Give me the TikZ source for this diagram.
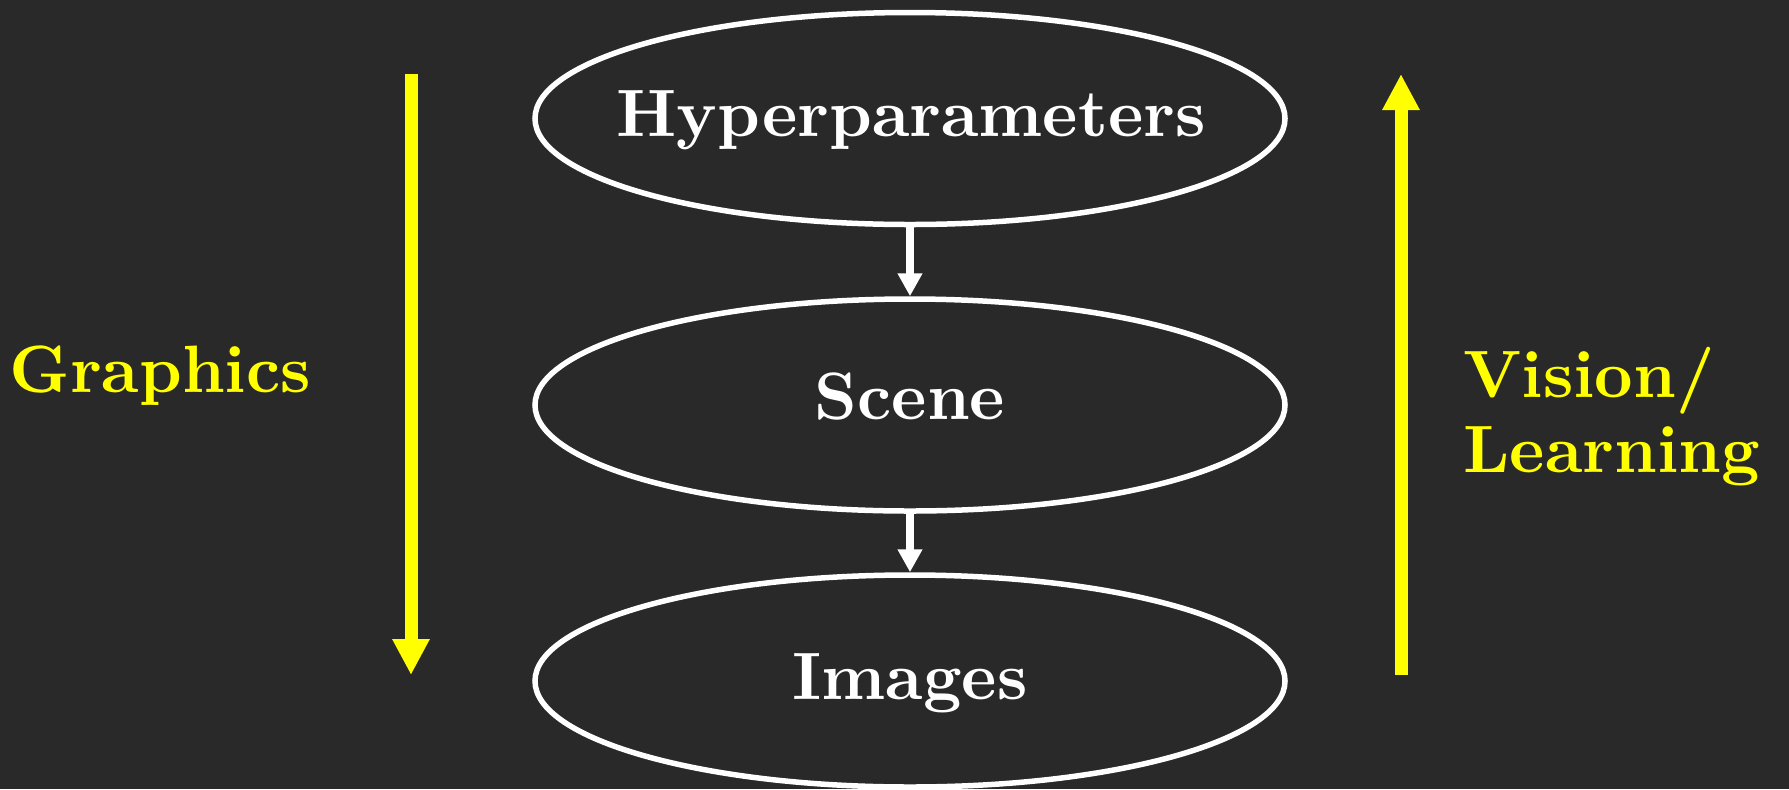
\documentclass[tikz,border=0pt]{standalone}
\usepackage{fontspec}
\usetikzlibrary{shapes.geometric,arrows.meta}
\newfontfamily\bxten{lmroman10-bold.otf}
\definecolor{bgdark}{RGB}{41,41,41}
\definecolor{lblyellow}{RGB}{255,255,0}
\begin{document}
\begin{tikzpicture}[x=0.4pt,y=-0.4pt,
  stage/.style={ellipse,draw=white,line width=2.2pt,minimum width=300pt,
    minimum height=84.8pt,inner sep=0pt},
  stagetext/.style={text=white,inner sep=0pt,anchor=base,
    font=\fontsize{26.8}{30}\selectfont\bxten},
  flow/.style={draw=white,line width=3.2pt,
    -{Triangle[width=9.4pt,length=9.2pt]}},
  dirarrow/.style={draw=lblyellow,line width=5.2pt,
    -{Triangle[width=14pt,length=14.4pt]}},
  side/.style={text=lblyellow,inner sep=0pt,align=left,anchor=base west,
    font=\fontsize{26.8}{30}\selectfont\bxten}]
  % background
  \fill[bgdark] (0,0) rectangle (1789,789);
  \useasboundingbox (0,0) rectangle (1789,789);

  % the three stages
  \node[stage] (hyper) at (910,118.5) {};
  \node[stage] (scene) at (910,405) {};
  \node[stage] (images) at (910,681) {};
  \node[stagetext] (hypertxt) at (911,136.7) {Hyperparameters};
  \node[stagetext] (scenetxt) at (910,419) {Scene};
  \node[stagetext] (imagestxt) at (910,699) {Images};

  \draw[flow] (hyper.south) -- (scene.north);
  \draw[flow] (scene.south) -- (images.north);

  % direction arrows
  \coordinate (gtop) at (411,74);
  \coordinate (gbot) at (411,675);
  \coordinate (vtop) at (1401,74);
  \coordinate (vbot) at (1401,675);
  \draw[dirarrow] (gtop) -- (gbot);
  \draw[dirarrow] (vbot) -- (vtop);

  \node[side] (graphics) at (9,392) {Graphics};
  \node[side] (vision) at (1463,472) {Vision/\\Learning};
\end{tikzpicture}
\end{document}
